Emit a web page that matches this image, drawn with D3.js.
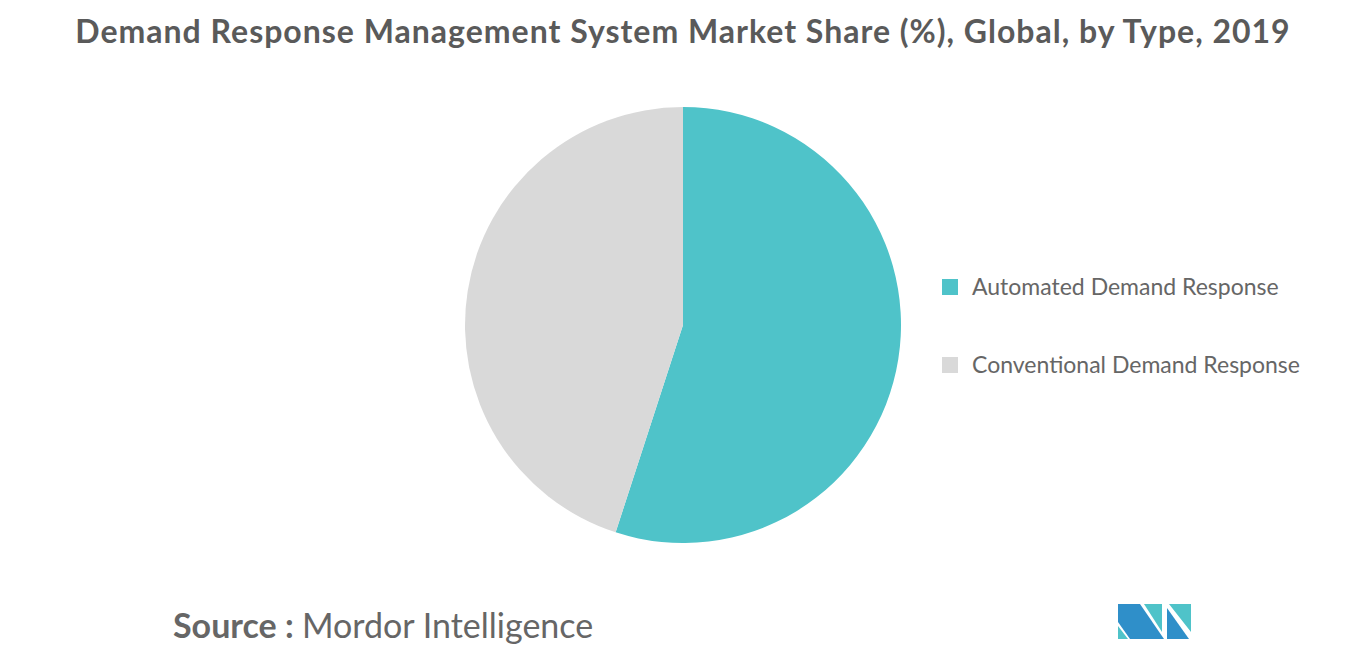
<!DOCTYPE html>
<html><head><meta charset="utf-8">
<script src="https://cdn.jsdelivr.net/npm/d3@7"></script>
<style>body{margin:0;background:#fff;font-family:Lato,"Open Sans",sans-serif;}</style>
</head><body>
<div class="chart"></div>
<script>
var categories = ["Automated Demand Response", "Conventional Demand Response"];
var shares = [55, 45];
var colors = ["#4fc3c9", "#d9d9d9"];

var svg = d3.select(".chart").append("svg").attr("width", 1366).attr("height", 655);

svg.append("text").attr("x", 683).attr("y", 43).attr("text-anchor", "middle")
  .attr("font-size", 32).attr("letter-spacing", 1).attr("font-weight", "bold").attr("fill", "#5a5a5a")
  .text("Demand Response Management System Market Share (%), Global, by Type, 2019");

var pie = d3.pie().sort(null).value(d => d);
var arc = d3.arc().innerRadius(0).outerRadius(218);
svg.append("g").attr("transform", "translate(683,325)")
  .selectAll("path").data(pie(shares)).enter().append("path")
  .attr("d", arc).attr("fill", (d, i) => colors[i]);

var legend = svg.append("g").attr("transform", "translate(942,287)");
categories.forEach(function(c, i) {
  var g = legend.append("g").attr("transform", `translate(0,${i * 78})`);
  g.append("rect").attr("x", 0).attr("y", -8).attr("width", 16).attr("height", 16).attr("fill", colors[i]);
  g.append("text").attr("x", 30).attr("y", 8).attr("font-size", 23).attr("fill", "#666").text(c);
});

var src = svg.append("text").attr("x", 173).attr("y", 638).attr("font-size", 34).attr("fill", "#666");
src.append("tspan").attr("font-weight", "bold").text("Source : ");
src.append("tspan").text("Mordor Intelligence");

// logo
var logo = svg.append("g").attr("transform", "translate(1118,604)");
logo.append("polygon").attr("points", "0,0 22,0 46,35 12,35 0,18").attr("fill", "#2f8fc9");
logo.append("polygon").attr("points", "0,22 10,35 0,35").attr("fill", "#4fc3c9");
logo.append("polygon").attr("points", "26,0 44,0 44,28").attr("fill", "#4fc3c9");
logo.append("polygon").attr("points", "49,0 73,0 73,28 51,0").attr("fill", "#4fc3c9");
logo.append("polygon").attr("points", "49,4 71,35 49,35").attr("fill", "#2f8fc9");
</script>
</body></html>
